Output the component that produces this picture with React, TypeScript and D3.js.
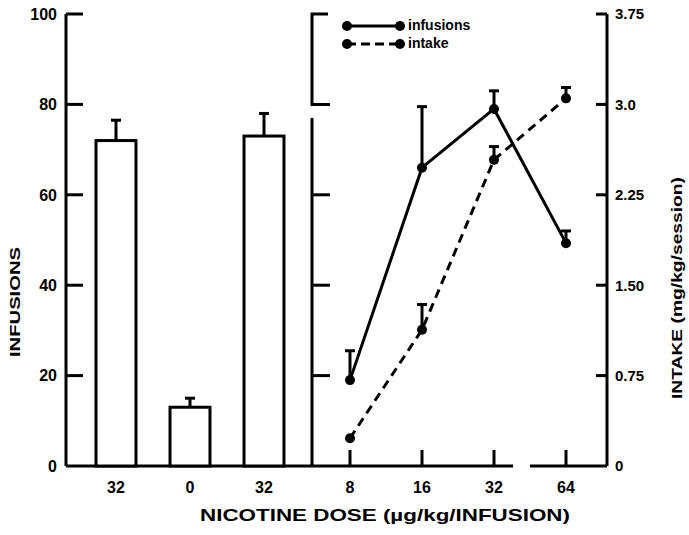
import React from "react";
import * as d3 from "d3";

const barLabels = ["32", "0", "32"];
const barValues = [72, 13, 73];
const barErrTop = [76.5, 15, 78];

const doses = [8, 16, 32, 64];
const infusions = [19, 66, 79, 49.3];
const infusionsErrTop = [25.5, 79.5, 83, 52];
const intake = [0.23, 1.13, 2.54, 3.05];
const intakeErrTop = [null, 1.34, 2.65, 3.14];

const leftTicks = [0, 20, 40, 60, 80, 100];
const rightTicks = [0, 0.75, 1.5, 2.25, 3.0, 3.75];
const rightTickLabels = ["0", "0.75", "1.50", "2.25", "3.0", "3.75"];

const W = 689, H = 535;
const FONT = "'Liberation Sans', Arial, sans-serif";

export default function App() {
  const yL = d3.scaleLinear().domain([0, 100]).range([466, 14]);
  const yR = d3.scaleLinear().domain([0, 3.75]).range([466, 14]);
  const xBar = d3.scaleBand<number>().domain([0, 1, 2]).range([79, 301]).paddingInner(0.46).paddingOuter(0.23);
  const xLine = d3.scalePoint<number>().domain(doses).range([350, 566]);

  const lineInf = d3.line<number>().x((_, i) => xLine(doses[i])!).y((v) => yL(v));
  const lineInt = d3.line<number>().x((_, i) => xLine(doses[i])!).y((v) => yR(v));

  const axisX = 66, midX = 312, rightX = 607, base = 466;
  const sw = 3;

  return (
    <svg width={W} height={H} style={{ position: "absolute", left: 0, top: 0, background: "#fff" }}
      fontFamily={FONT} fontWeight="bold">
      <rect x={0} y={0} width={W} height={H} fill="#fff" />
      {/* left axis */}
      <line x1={axisX} y1={yL(100)} x2={axisX} y2={base} stroke="#000" strokeWidth={sw} />
      {leftTicks.filter((t) => t > 0).map((t) => (
        <line key={t} x1={axisX} x2={axisX + 17} y1={yL(t)} y2={yL(t)} stroke="#000" strokeWidth={sw} />
      ))}
      {leftTicks.map((t) => (
        <text key={t} x={57} y={yL(t)} dy="0.36em" textAnchor="end" fontSize={16}>{t}</text>
      ))}
      {/* baseline */}
      <line x1={axisX} x2={513} y1={base} y2={base} stroke="#000" strokeWidth={sw} />
      <line x1={530} x2={rightX} y1={base} y2={base} stroke="#000" strokeWidth={sw} />
      {/* middle axis */}
      <path d={`M${midX + 16},${yL(100)} H${midX} V${yL(80)} H${midX + 18}`} fill="none" stroke="#000" strokeWidth={sw} />
      <line x1={midX} x2={midX} y1={yL(77)} y2={base} stroke="#000" strokeWidth={sw} />
      {[20, 40, 60].map((t) => (
        <line key={t} x1={midX} x2={midX + 18} y1={yL(t)} y2={yL(t)} stroke="#000" strokeWidth={sw} />
      ))}
      {/* right axis */}
      <line x1={rightX} x2={rightX} y1={yR(3.75)} y2={base} stroke="#000" strokeWidth={sw} />
      {rightTicks.filter((t) => t > 0).map((t) => (
        <line key={t} x1={rightX - 11} x2={rightX} y1={yR(t)} y2={yR(t)} stroke="#000" strokeWidth={sw} />
      ))}
      {rightTicks.map((t, i) => (
        <text key={t} x={rightX + 8} y={yR(t)} dy="0.36em" textAnchor="start" fontSize={15}>{rightTickLabels[i]}</text>
      ))}
      {/* bars */}
      {barValues.map((v, i) => {
        const x = xBar(i)!, bw = xBar.bandwidth(), cx = x + bw / 2;
        return (
          <g key={i}>
            <line x1={cx} x2={cx} y1={yL(v)} y2={yL(barErrTop[i])} stroke="#000" strokeWidth={sw} />
            <line x1={cx - 5} x2={cx + 5} y1={yL(barErrTop[i])} y2={yL(barErrTop[i])} stroke="#000" strokeWidth={sw} />
            <rect x={x} y={yL(v)} width={bw} height={base - yL(v)} fill="#fff" stroke="#000" strokeWidth={sw} />
            <text x={cx} y={487} dy="0.36em" textAnchor="middle" fontSize={16}>{barLabels[i]}</text>
          </g>
        );
      })}
      {/* dose ticks */}
      {doses.map((d) => (
        <g key={d}>
          <line x1={xLine(d)} x2={xLine(d)} y1={base} y2={base - 16} stroke="#000" strokeWidth={sw} />
          <text x={xLine(d)} y={487} dy="0.36em" textAnchor="middle" fontSize={16}>{d}</text>
        </g>
      ))}
      {/* error bars */}
      {infusions.map((v, i) => (
        <g key={"ie" + i}>
          <line x1={xLine(doses[i])} x2={xLine(doses[i])} y1={yL(v)} y2={yL(infusionsErrTop[i])} stroke="#000" strokeWidth={sw} />
          <line x1={xLine(doses[i])! - 5} x2={xLine(doses[i])! + 5} y1={yL(infusionsErrTop[i])} y2={yL(infusionsErrTop[i])} stroke="#000" strokeWidth={sw} />
        </g>
      ))}
      {intake.map((v, i) => intakeErrTop[i] == null ? null : (
        <g key={"te" + i}>
          <line x1={xLine(doses[i])} x2={xLine(doses[i])} y1={yR(v)} y2={yR(intakeErrTop[i] as number)} stroke="#000" strokeWidth={sw} />
          <line x1={xLine(doses[i])! - 5} x2={xLine(doses[i])! + 5} y1={yR(intakeErrTop[i] as number)} y2={yR(intakeErrTop[i] as number)} stroke="#000" strokeWidth={sw} />
        </g>
      ))}
      <path d={lineInf(infusions)!} fill="none" stroke="#000" strokeWidth={sw} />
      <path d={lineInt(intake)!} fill="none" stroke="#000" strokeWidth={sw} strokeDasharray="9,6" />
      {infusions.map((v, i) => (
        <circle key={"ic" + i} cx={xLine(doses[i])} cy={yL(v)} r={5} fill="#000" />
      ))}
      {intake.map((v, i) => (
        <circle key={"tc" + i} cx={xLine(doses[i])} cy={yR(v)} r={5} fill="#000" />
      ))}
      {/* legend */}
      <line x1={347} x2={400} y1={26} y2={26} stroke="#000" strokeWidth={sw} />
      <circle cx={347} cy={26} r={5} fill="#000" />
      <circle cx={400} cy={26} r={5} fill="#000" />
      <text x={408} y={26} dy="0.32em" fontSize={14}>infusions</text>
      <line x1={347} x2={400} y1={44} y2={44} stroke="#000" strokeWidth={sw} strokeDasharray="9,5" />
      <circle cx={347} cy={44} r={5} fill="#000" />
      <circle cx={400} cy={44} r={5} fill="#000" />
      <text x={408} y={44} dy="0.32em" fontSize={14}>intake</text>
      {/* axis titles */}
      <text x={385} y={515} dy="0.36em" textAnchor="middle" fontSize={17} textLength={370} lengthAdjust="spacingAndGlyphs">NICOTINE DOSE (µg/kg/INFUSION)</text>
      <text transform={`translate(15,302) rotate(-90)`} dy="0.36em" textAnchor="middle" fontSize={14} textLength={110} lengthAdjust="spacingAndGlyphs">INFUSIONS</text>
      <text transform={`translate(677,288) rotate(-90)`} dy="0.36em" textAnchor="middle" fontSize={14} textLength={222} lengthAdjust="spacingAndGlyphs">INTAKE (mg/kg/session)</text>
    </svg>
  );
}
